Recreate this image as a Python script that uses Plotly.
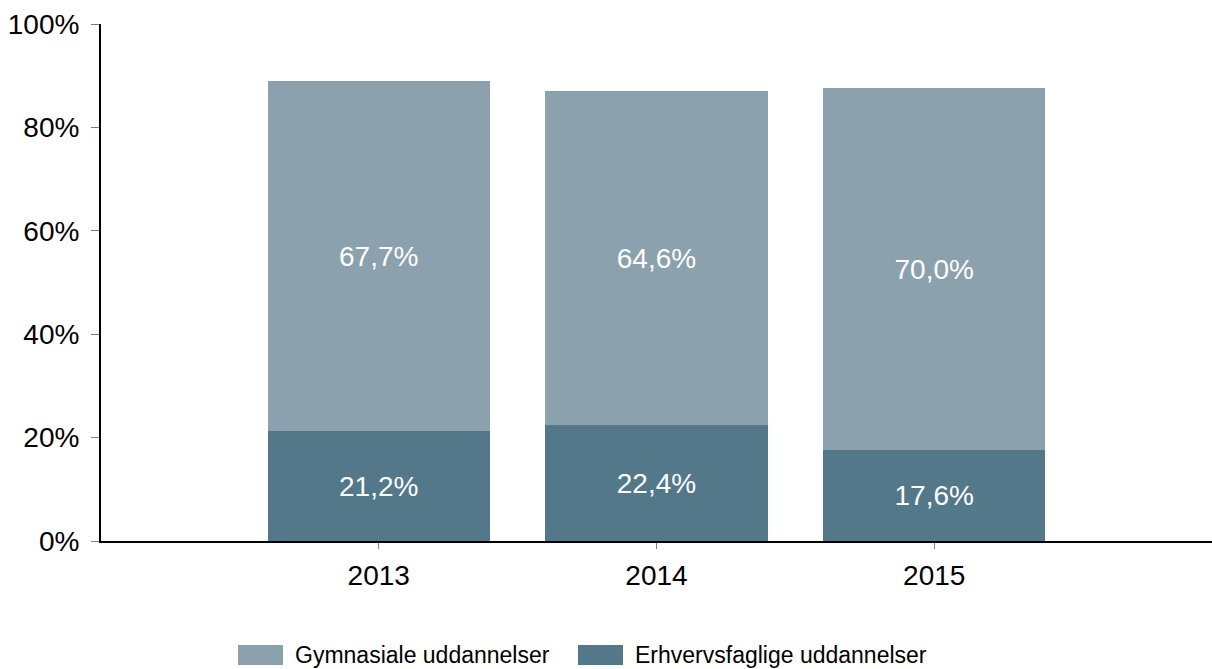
import plotly.graph_objects as go

years = ["2013", "2014", "2015"]
gymnasiale = [67.7, 64.6, 70.0]
erhvervsfaglige = [21.2, 22.4, 17.6]
series_names = ["Gymnasiale uddannelser", "Erhvervsfaglige uddannelser"]
y_ticks = [0, 20, 40, 60, 80, 100]

LIGHT = "#8BA1AE"
DARK = "#52788A"
FONT = "Liberation Sans, Arial, sans-serif"

def fmt(v):
    return f"{v:.1f}".replace(".", ",") + "%"

xpos = list(range(len(years)))

fig = go.Figure()
fig.add_trace(go.Bar(
    x=xpos, y=erhvervsfaglige, name=series_names[1], marker_color=DARK,
    marker_line_width=0, width=0.8,
    text=[fmt(v) for v in erhvervsfaglige], textposition="inside",
    insidetextanchor="middle", textangle=0,
    textfont=dict(color="white", size=28, family=FONT), showlegend=False))
fig.add_trace(go.Bar(
    x=xpos, y=gymnasiale, name=series_names[0], marker_color=LIGHT,
    marker_line_width=0, width=0.8,
    text=[fmt(v) for v in gymnasiale], textposition="inside",
    insidetextanchor="middle", textangle=0,
    textfont=dict(color="white", size=28, family=FONT), showlegend=False))

L, T, B = 101, 24, 128
W, H = 1212, 669
pw = W - L
ph = H - T - B

def px_x(p):
    return (p - L) / pw

def px_y(p):
    return (H - B - p) / ph

# custom legend
legend_items = [(series_names[0], LIGHT, 238), (series_names[1], DARK, 578)]
for name, col, x0 in legend_items:
    fig.add_shape(type="rect", xref="paper", yref="paper",
                  x0=px_x(x0), x1=px_x(x0 + 45), y0=px_y(645), y1=px_y(665),
                  fillcolor=col, line_width=0)
    fig.add_annotation(xref="paper", yref="paper", x=px_x(x0 + 55), y=px_y(655),
                       text=name, showarrow=False, xanchor="left", yanchor="middle",
                       font=dict(size=23, color="black", family=FONT))

fig.update_layout(
    barmode="stack",
    width=W, height=H,
    margin=dict(l=L, r=0, t=T, b=B, pad=0),
    plot_bgcolor="white", paper_bgcolor="white",
    font=dict(family=FONT, color="black"),
    bargap=0.2,
)
fig.update_xaxes(
    range=[-1, 3], tickmode="array", tickvals=xpos, ticktext=years,
    showline=True, linecolor="black", linewidth=2, showgrid=False, zeroline=False,
    ticks="outside", ticklen=6, tickcolor="#7f7f7f", tickwidth=1,
    tickfont=dict(size=28, color="black", family=FONT), ticklabelstandoff=2,
)
fig.update_yaxes(
    range=[0, 100], tickmode="array", tickvals=y_ticks,
    ticktext=[f"{v}%" for v in y_ticks],
    showline=True, linecolor="black", linewidth=2, showgrid=False, zeroline=False,
    ticks="outside", ticklen=8, tickcolor="#7f7f7f", tickwidth=1,
    tickfont=dict(size=28, color="black", family=FONT), ticklabelstandoff=6,
)

fig.write_html(
    "out.html",
    config={"displayModeBar": False},
    post_script="document.body.style.margin='0';document.body.style.overflow='hidden';",
)
